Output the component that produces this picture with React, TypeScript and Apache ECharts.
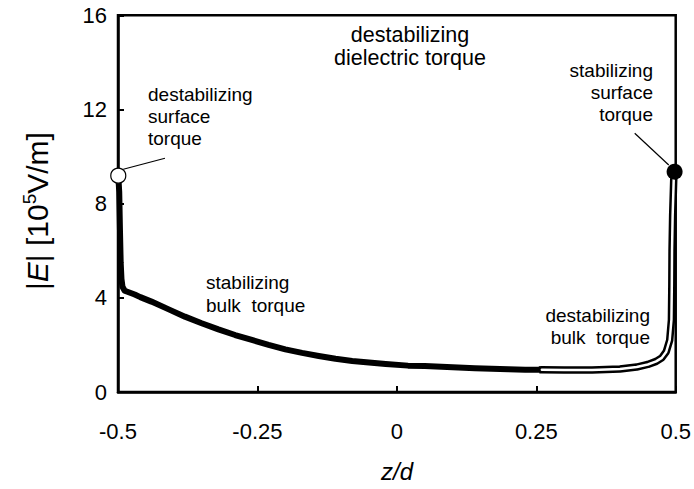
import React, { useEffect, useRef } from "react";
import * as echarts from "echarts";

// bulk part of the field profile (single thick curve)
const zBulk = [
  -0.4995, -0.4978, -0.4965, -0.4952, -0.4938, -0.492, -0.488, -0.47, -0.46,
  -0.44, -0.41, -0.38, -0.35, -0.32, -0.29, -0.26, -0.23, -0.2, -0.17, -0.14,
  -0.11, -0.08, -0.05, -0.02, 0.02, 0.05, 0.08, 0.11, 0.14, 0.17, 0.2, 0.23,
  0.255,
];
const eBulk = [
  9.19, 8.5, 6.9, 5.5, 4.8, 4.47, 4.3, 4.14, 4.03, 3.84, 3.52, 3.2, 2.92,
  2.66, 2.42, 2.21, 2.0, 1.81, 1.66, 1.53, 1.41, 1.32, 1.25, 1.19, 1.12, 1.1,
  1.07, 1.04, 1.01, 0.99, 0.97, 0.95, 0.94,
];
// split (double) branch near the right plate
const zSplit = [
  0.255, 0.26, 0.3, 0.35, 0.4, 0.43, 0.45, 0.465, 0.475, 0.483, 0.4892,
  0.4923, 0.493, 0.4934, 0.4945, 0.4964, 0.498,
];
const eSplit = [
  0.94, 0.95, 0.93, 0.93, 0.98, 1.06, 1.17, 1.3, 1.45, 1.71, 2.2, 3.06, 4.5,
  6.0, 7.5, 9.0, 9.36,
];
const leftDot = [[-0.4995, 9.19]];
const rightDot = [[0.498, 9.36]];
const leftLeader = [[-0.4905, 9.46], [-0.4158, 9.93]];
const rightLeader = [[0.4265, 10.99], [0.4875, 9.64]];

const xTicks = ["-0.5", "-0.25", "0", "0.25", "0.5"];
const yTicks = ["0", "4", "8", "12", "16"];

const FONT = "'Liberation Sans', Arial, sans-serif";

const zip = (a: number[], b: number[]) => a.map((v, i) => [v, b[i]]);

export default function App() {
  const ref = useRef<HTMLDivElement>(null);
  useEffect(() => {
    if (!ref.current) return;
    const chart = echarts.init(ref.current, undefined, { renderer: "svg" });
    const txt = (
      text: string,
      x: number,
      y: number,
      align: string,
      size: number,
      lh: number
    ) => ({
      type: "text",
      x,
      y,
      z: 20,
      style: {
        text,
        fill: "#000",
        font: `${size}px ${FONT}`,
        fontSize: size,
        fontFamily: FONT,
        lineHeight: lh,
        textAlign: align,
        textVerticalAlign: "top",
        verticalAlign: "top",
        align,
      },
    });
    chart.setOption({
      animation: false,
      backgroundColor: "#fff",
      grid: {
        left: 118,
        right: 18,
        top: 15.3,
        bottom: 97,
        show: true,
        borderColor: "#000",
        borderWidth: 2.5,
        backgroundColor: "transparent",
      },
      xAxis: {
        type: "value",
        min: -0.5,
        max: 0.5,
        interval: 0.25,
        axisLine: { onZero: false, lineStyle: { color: "#000", width: 2.5 } },
        axisTick: { inside: true, length: 6, lineStyle: { color: "#000", width: 2 } },
        splitLine: { show: false },
        axisLabel: {
          color: "#000",
          fontSize: 22,
          fontFamily: FONT,
          margin: 28,
          formatter: (v: number) => xTicks[Math.round((v + 0.5) / 0.25)] ?? "",
        },
      },
      yAxis: {
        type: "value",
        min: 0,
        max: 16,
        interval: 4,
        axisLine: { show: true, onZero: false, lineStyle: { color: "#000", width: 2.5 } },
        axisTick: { show: true, inside: true, length: 6, lineStyle: { color: "#000", width: 2 } },
        splitLine: { show: false },
        axisLabel: {
          color: "#000",
          fontSize: 22,
          fontFamily: FONT,
          margin: 11,
          formatter: (v: number) => yTicks[Math.round(v / 4)] ?? "",
        },
      },
      series: [
        {
          type: "line",
          data: zip(zBulk, eBulk),
          showSymbol: false,
          symbol: "none",
          lineStyle: { color: "#000", width: 6, join: "round", cap: "round" },
          z: 2,
        },
        {
          type: "line",
          data: zip(zSplit, eSplit),
          showSymbol: false,
          symbol: "none",
          lineStyle: { color: "#000", width: 7.5, join: "round", cap: "butt" },
          z: 3,
        },
        {
          type: "line",
          data: zip(zSplit.slice(1), eSplit.slice(1)),
          showSymbol: false,
          symbol: "none",
          lineStyle: { color: "#fff", width: 2.5, join: "round", cap: "round" },
          z: 4,
        },
        {
          type: "line",
          data: leftLeader,
          showSymbol: false,
          symbol: "none",
          lineStyle: { color: "#000", width: 1.2 },
          z: 5,
        },
        {
          type: "line",
          data: rightLeader,
          showSymbol: false,
          symbol: "none",
          lineStyle: { color: "#000", width: 1.2 },
          z: 5,
        },
        {
          type: "scatter",
          data: leftDot,
          symbolSize: 15,
          itemStyle: { color: "#fff", borderColor: "#000", borderWidth: 1.2, opacity: 1 },
          z: 10,
        },
        {
          type: "scatter",
          data: rightDot,
          symbolSize: 16,
          itemStyle: { color: "#000", opacity: 1 },
          z: 10,
        },
      ],
      graphic: [
        txt("destabilizing\ndielectric torque", 410, 23, "center", 21.5, 23),
        txt("destabilizing\nsurface\ntorque", 148, 83.5, "left", 19, 22),
        txt("stabilizing\nsurface\ntorque", 653, 59.5, "right", 19, 22),
        txt("stabilizing\nbulk  torque", 206, 271, "left", 19, 23),
        txt("destabilizing\nbulk  torque", 650, 304, "right", 19, 22),
        {
          type: "text",
          x: 397,
          y: 471,
          z: 20,
          style: {
            text: "z/d",
            fill: "#000",
            font: `italic 24px ${FONT}`,
            fontStyle: "italic",
            fontSize: 24,
            fontFamily: FONT,
            textAlign: "center",
            textVerticalAlign: "middle",
            align: "center",
            verticalAlign: "middle",
          },
        },
        {
          type: "text",
          x: 37,
          y: 211,
          rotation: Math.PI / 2,
          z: 20,
          style: {
            text: "{a||}{i|E}{a|| [10}{s|5}{a|V/m]}",
            fill: "#000",
            textAlign: "center",
            textVerticalAlign: "middle",
            align: "center",
            verticalAlign: "middle",
            rich: {
              a: { fontSize: 30, fontFamily: FONT, lineHeight: 34, fill: "#000" },
              i: { fontSize: 30, fontFamily: FONT, fontStyle: "italic", lineHeight: 34, fill: "#000" },
              s: { fontSize: 19, fontFamily: FONT, lineHeight: 20, verticalAlign: "top", fill: "#000" },
            },
          },
        },
      ],
    });
    return () => chart.dispose();
  }, []);
  return (
    <div
      ref={ref}
      style={{ position: "fixed", left: 0, top: 0, width: 694, height: 489 }}
    />
  );
}
